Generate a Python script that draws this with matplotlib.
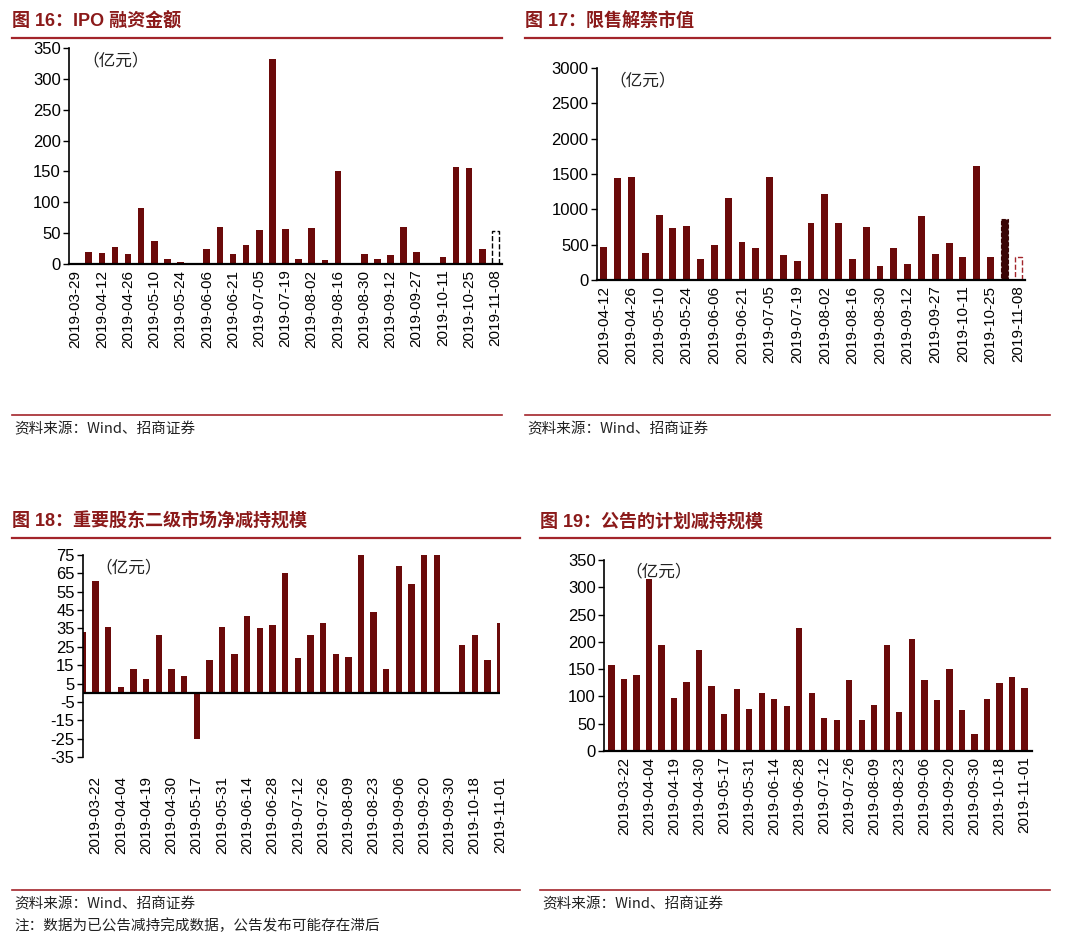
import numpy as np
import matplotlib.pyplot as plt
from matplotlib.lines import Line2D

plt.rcParams['font.family'] = ['Liberation Sans', 'Noto Sans CJK SC', 'DejaVu Sans']
plt.rcParams['axes.unicode_minus'] = False

BAR = '#6B0A0A'
RED = '#A3252B'
TITLE = '#8B1A1A'

# 图16 IPO融资金额
ipo_dates = ['2019-03-29', '2019-04-04', '2019-04-12', '2019-04-19', '2019-04-26', '2019-05-03',
             '2019-05-10', '2019-05-17', '2019-05-24', '2019-05-31', '2019-06-06', '2019-06-14',
             '2019-06-21', '2019-06-28', '2019-07-05', '2019-07-12', '2019-07-19', '2019-07-26',
             '2019-08-02', '2019-08-09', '2019-08-16', '2019-08-23', '2019-08-30', '2019-09-06',
             '2019-09-12', '2019-09-20', '2019-09-27', '2019-10-04', '2019-10-11', '2019-10-18',
             '2019-10-25', '2019-11-01', '2019-11-08']
ipo_vals = [0, 20, 18, 28, 17, 90, 38, 8, 4, 2, 25, 60, 17, 30, 55, 332, 56, 8, 58, 6, 150,
            2, 17, 8, 15, 60, 20, 0, 12, 157, 155, 25, 53]

# 图17 限售解禁市值
jj_dates = ['2019-04-12', '2019-04-19', '2019-04-26', '2019-05-03', '2019-05-10', '2019-05-17',
            '2019-05-24', '2019-05-31', '2019-06-06', '2019-06-14', '2019-06-21', '2019-06-28',
            '2019-07-05', '2019-07-12', '2019-07-19', '2019-07-26', '2019-08-02', '2019-08-09',
            '2019-08-16', '2019-08-23', '2019-08-30', '2019-09-06', '2019-09-12', '2019-09-20',
            '2019-09-27', '2019-10-04', '2019-10-11', '2019-10-18', '2019-10-25', '2019-11-01',
            '2019-11-08']
jj_vals = [460, 1440, 1460, 380, 920, 730, 770, 300, 500, 1160, 540, 450, 1460, 360, 270, 810,
           1210, 800, 300, 750, 200, 450, 230, 900, 370, 520, 330, 1620, 330, 870, 330]

# 图18 / 图19 共用日期
jc_dates = ['2019-03-15', '2019-03-22', '2019-03-29', '2019-04-04', '2019-04-12', '2019-04-19',
            '2019-04-26', '2019-04-30', '2019-05-10', '2019-05-17', '2019-05-24', '2019-05-31',
            '2019-06-06', '2019-06-14', '2019-06-21', '2019-06-28', '2019-07-05', '2019-07-12',
            '2019-07-19', '2019-07-26', '2019-08-02', '2019-08-09', '2019-08-16', '2019-08-23',
            '2019-08-30', '2019-09-06', '2019-09-12', '2019-09-20', '2019-09-27', '2019-09-30',
            '2019-10-11', '2019-10-18', '2019-10-25', '2019-11-01']
jc_net = [33, 61, 36, 3, 13, 7.5, 31.5, 13, 9, -25, 18, 36, 21, 42, 35, 37, 65, 19, 31.5, 38,
          21, 19.5, 78, 44, 13, 69, 59, 80, 80, 0.5, 26, 31.5, 18, 38]
jc_plan = [157, 132, 139, 316, 194, 98, 127, 185, 120, 68, 114, 77, 107, 95, 82, 225, 107, 61,
           56, 130, 57, 84, 195, 72, 206, 130, 93, 151, 75, 31, 95, 125, 136, 116]

fig = plt.figure(figsize=(10.8, 9.48), dpi=100)
W, H = 1080, 948


def box(l, t, r, b):
    return [l / W, 1 - b / H, (r - l) / W, (b - t) / H]


def hline(x0, x1, y, lw=1.6):
    fig.add_artist(Line2D([x0 / W, x1 / W], [1 - y / H, 1 - y / H], color=RED, lw=lw))


def header(x0, x1, y, text):
    fig.text(x0 / W, 1 - (y - 16) / H, text, fontsize=13, fontweight='bold', color=TITLE,
             va='center', family=['Liberation Sans', 'Noto Sans CJK SC'])
    hline(x0, x1, y)


def source(x0, x1, y):
    hline(x0, x1, y, lw=1.2)
    fig.text((x0 + 2) / W, 1 - (y + 14) / H, '资料来源：Wind、招商证券', fontsize=10.5,
             color='#222222', va='center', family=['Noto Sans CJK SC', 'DejaVu Sans'])


def style(ax, ticks, ticklabels, unit_x=0.03):
    for s in ['top', 'right']:
        ax.spines[s].set_visible(False)
    ax.spines['left'].set_linewidth(1.2)
    ax.spines['bottom'].set_linewidth(1.6)
    ax.tick_params(axis='y', labelsize=12, length=4, width=1, pad=2)
    ax.tick_params(axis='x', length=0, labelsize=11, pad=4)
    ax.set_xticks(ticks)
    ax.set_xticklabels(ticklabels, rotation=90)
    ax.text(unit_x, 0.98, '（亿元）', transform=ax.transAxes, fontsize=12, va='top',
            family=['Noto Sans CJK SC', 'DejaVu Sans'], color='#222222')


# 图16
ax1 = fig.add_axes(box(69, 48, 502, 264))
x = np.arange(len(ipo_vals))
ax1.bar(x[:-1], ipo_vals[:-1], width=0.5, color=BAR)
ax1.bar(x[-1], ipo_vals[-1], width=0.5, facecolor='white', edgecolor='black', ls='--', lw=1)
ax1.set_ylim(0, 350)
ax1.set_yticks(range(0, 351, 50))
ax1.set_xlim(-0.5, len(x) - 0.5)
style(ax1, x[::2], ipo_dates[::2])
header(12, 502, 38, '图 16：IPO 融资金额')
source(12, 502, 415)

# 图17
ax2 = fig.add_axes(box(597, 68, 1025, 280))
x = np.arange(len(jj_vals))
ax2.bar(x[:-2], jj_vals[:-2], width=0.5, color=BAR)
ax2.bar(x[-2], jj_vals[-2], width=0.5, facecolor='#3A0505', edgecolor='#3A0505', ls='--', lw=0.8)
ax2.bar(x[-1], jj_vals[-1], width=0.5, facecolor='white', edgecolor=RED, ls='--', lw=1)
ax2.set_ylim(0, 3000)
ax2.set_yticks(range(0, 3001, 500))
ax2.set_xlim(-0.5, len(x) - 0.5)
style(ax2, x[::2], jj_dates[::2])
header(525, 1050, 38, '图 17：限售解禁市值')
source(525, 1050, 415)

# 图18
ax3 = fig.add_axes(box(83, 555, 500, 757))
x = np.arange(len(jc_net))
ax3.bar(x, jc_net, width=0.5, color=BAR)
ax3.set_ylim(-35, 75)
ax3.set_yticks(range(-35, 76, 10))
ax3.set_xlim(0, len(x) - 1)
ax3.axhline(0, color='black', lw=1.6)
style(ax3, x[1::2], jc_dates[1::2])
ax3.spines['bottom'].set_visible(False)
ax3.tick_params(axis='x', pad=14)
header(12, 520, 538, '图 18：重要股东二级市场净减持规模')
source(12, 520, 890)
fig.text(14 / W, 1 - 926 / H, '注：数据为已公告减持完成数据，公告发布可能存在滞后', fontsize=10.5,
         color='#222222', va='center', family=['Noto Sans CJK SC', 'DejaVu Sans'])

# 图19
ax4 = fig.add_axes(box(604, 560, 1032, 751))
x = np.arange(len(jc_plan))
ax4.bar(x, jc_plan, width=0.5, color=BAR)
ax4.set_ylim(0, 350)
ax4.set_yticks(range(0, 351, 50))
ax4.set_xlim(-0.6, len(x) - 0.4)
style(ax4, x[1::2], jc_dates[1::2], unit_x=0.05)
header(540, 1050, 538, '图 19：公告的计划减持规模')
source(540, 1050, 890)

fig.savefig('out.png', dpi=100)
